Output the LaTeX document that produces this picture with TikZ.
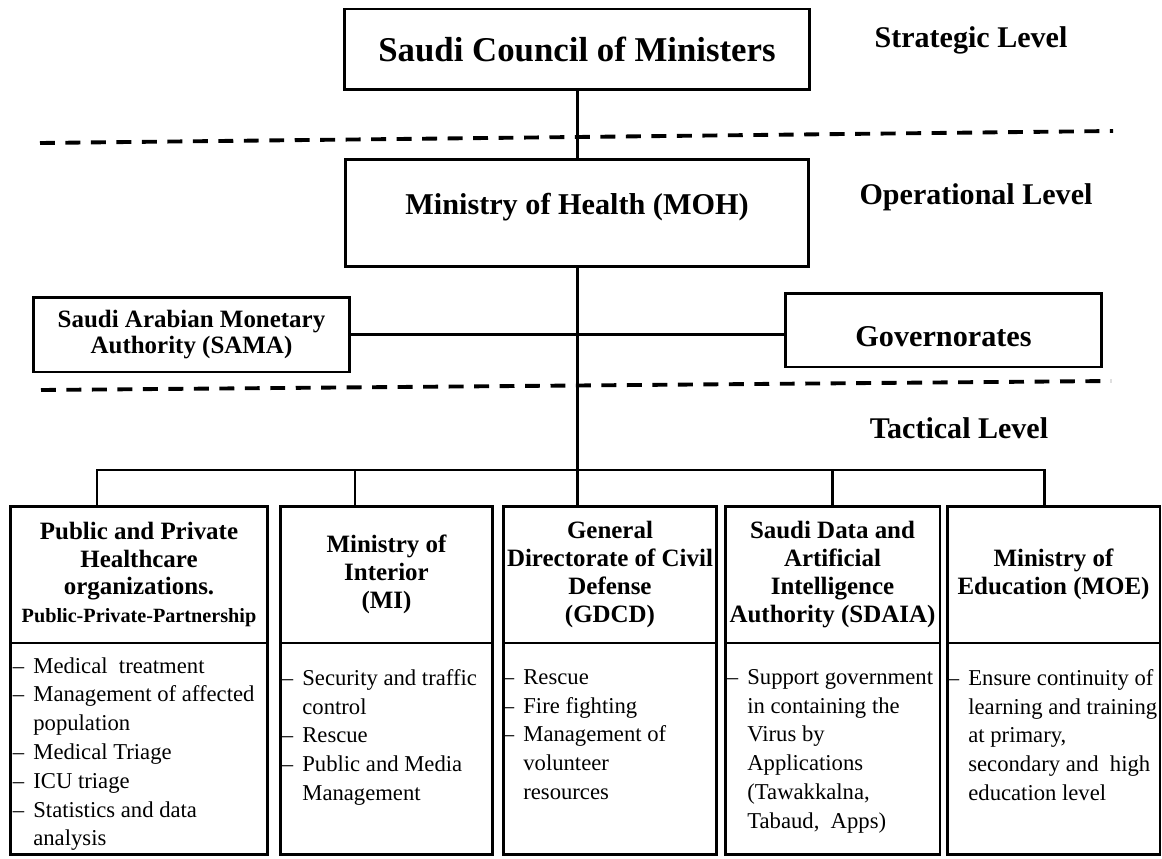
\documentclass[tikz,border=0pt]{standalone}
\usepackage{fontspec}
\setmainfont{Liberation Serif}
\usetikzlibrary{positioning}
\newcommand{\dashitem}{\llap{\textendash\hspace{0.4em}}}

\begin{document}
\begin{tikzpicture}[x=0.02cm,y=-0.02cm,
  box/.style={draw,line width=1.7pt,outer sep=0pt,inner sep=0pt,align=flush center},
  hdrbox/.style={box,text width=#1,minimum height=2.74cm,font=\bfseries\fontsize{14.2pt}{15.9pt}\selectfont},
  bodybox/.style={box,text width=#1,minimum height=4.24cm},
  itemtext/.style={anchor=north west,inner sep=0pt,align=left,font=\fontsize{12.9pt}{16.4pt}\selectfont},
  levellabel/.style={font=\bfseries\fontsize{17.1pt}{20pt}\selectfont},
  sepline/.style={line width=2.2pt,dash pattern=on 8.5pt off 6pt},
  link/.style={line width=1.7pt}]

\useasboundingbox (0,0) rectangle (1162,858);

% strategic level
\node[box,minimum width=9.3cm,minimum height=1.62cm,font=\bfseries\fontsize{19.8pt}{22pt}\selectfont] (council) at (577,49.5) {Saudi Council of Ministers};
\node[levellabel] (strategic) at (971,40) {Strategic Level};

\coordinate (sep1a) at (40,143);
\coordinate (sep1b) at (1113,131);
\draw[sepline] (sep1a) -- (sep1b);

% operational level
\node[box,minimum width=9.26cm,minimum height=2.16cm,text height=0.05cm,text depth=0pt,font=\bfseries\fontsize{17.2pt}{20pt}\selectfont] (moh) at (577,213) {Ministry of Health (MOH)};
\node[levellabel] (operational) at (976,197) {Operational Level};

\node[box,minimum width=6.34cm,minimum height=1.5cm,font=\bfseries\fontsize{14.2pt}{15.3pt}\selectfont] (sama) at (191.5,334.5) {Saudi Arabian Monetary\\Authority (SAMA)};
\node[box,minimum width=6.34cm,minimum height=1.48cm,text height=0.68cm,text depth=0pt,font=\bfseries\fontsize{17.2pt}{20pt}\selectfont] (gov) at (943.5,330) {Governorates};

\draw[link] (council) -- (moh);
\draw[link] (sama.east) -- (sama.east -| gov.west);

\coordinate (sep2a) at (41,390);
\coordinate (sep2b) at (1111,381);
\draw[sepline] (sep2a) -- (sep2b);

% tactical level
\node[levellabel] (tactical) at (959,428) {Tactical Level};

\node[hdrbox=5.16cm] (h1) at (139,574.5) {Public and Private\\Healthcare\\organizations.\\{\fontsize{11.5pt}{13pt}\selectfont Public-Private-Partnership}};
\node[hdrbox=4.26cm] (h2) at (386.5,574.5) {Ministry of\\Interior\\(MI)};
\node[hdrbox=4.28cm] (h3) at (610,574.5) {General\\Directorate of Civil\\Defense\\(GDCD)};
\node[hdrbox=4.3cm] (h4) at (832.5,574.5) {Saudi Data and\\Artificial\\Intelligence\\Authority (SDAIA)};
\node[hdrbox=4.26cm] (h5) at (1053.5,574.5) {Ministry of\\Education (MOE)};

\node[bodybox=5.16cm,below=0pt of h1] (b1) {};
\node[bodybox=4.26cm,below=0pt of h2] (b2) {};
\node[bodybox=4.28cm,below=0pt of h3] (b3) {};
\node[bodybox=4.3cm,below=0pt of h4] (b4) {};
\node[bodybox=4.26cm,below=0pt of h5] (b5) {};

\node[itemtext] (t1) at (33,657) {\dashitem Medical~ treatment\\\dashitem Management of affected\\population\\\dashitem Medical Triage\\\dashitem ICU triage\\\dashitem Statistics and data\\analysis};
\node[itemtext] (t2) at (302,669) {\dashitem Security and traffic\\control\\\dashitem Rescue\\\dashitem Public and Media\\Management};
\node[itemtext] (t3) at (523,669) {\dashitem Rescue\\\dashitem Fire fighting\\\dashitem Management of\\volunteer\\resources};
\node[itemtext] (t4) at (747,669) {\dashitem Support government\\in containing the\\Virus by\\Applications\\(Tawakkalna,\\Tabaud,~ Apps)};
\node[itemtext] (t5) at (968,669) {\dashitem Ensure continuity of\\learning and training\\at primary,\\secondary and~ high\\education level};

% bus
\coordinate (bus) at (577,470);
\coordinate (d1) at (97,470);
\coordinate (d2) at (355,470);
\coordinate (d3) at (577,470);
\coordinate (d4) at (832,470);
\coordinate (d5) at (1044,470);
\draw[link] (moh) -- (bus);
\draw[link] (d1 |- h1.north) -- (d1) -- (d5) -- (d5 |- h5.north);
\foreach \i in {2,3,4}
  \draw[link] (d\i) -- (d\i |- h\i.north);

\end{tikzpicture}
\end{document}
